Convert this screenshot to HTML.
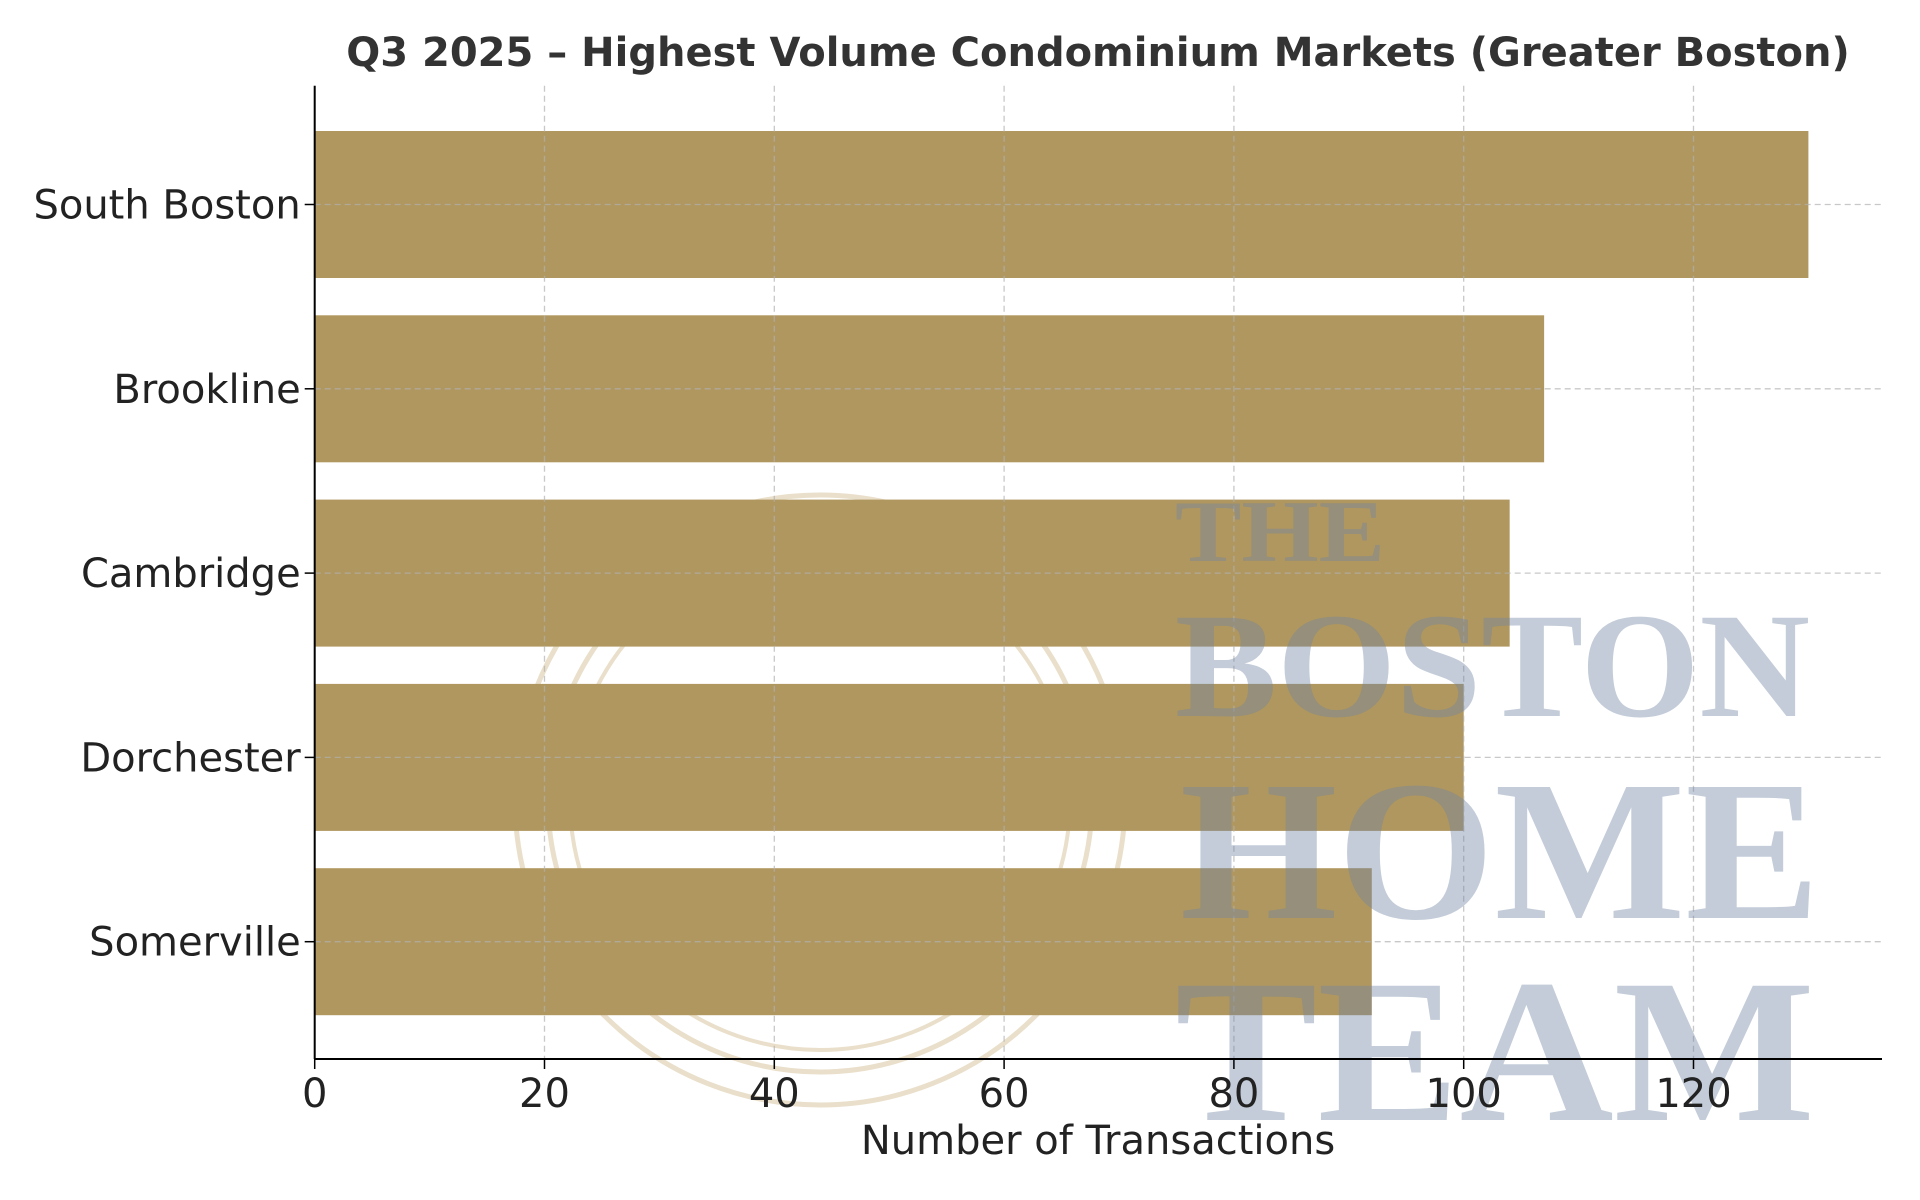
<!DOCTYPE html>
<html><head><meta charset="utf-8"><style>
html,body{margin:0;padding:0;background:#fff;}
svg{display:block;font-family:"DejaVu Sans","Liberation Sans",sans-serif;}
</style></head><body>
<svg id="chart" width="1920" height="1200" viewBox="0 0 1920 1200" xmlns="http://www.w3.org/2000/svg">
<g id="wm-circles">
<circle cx="820" cy="800" r="305" fill="none" stroke="#e9dfca" stroke-width="5"/>
<circle cx="820" cy="800" r="272" fill="none" stroke="#e9dfca" stroke-width="5"/>
<circle cx="820" cy="800" r="250" fill="none" stroke="#e9dfca" stroke-width="4"/>
</g>
<g id="bars"></g>
<g id="grid"></g>
<g id="wm-text" fill="#6f86a3" fill-opacity="0.42" font-family="'Liberation Serif',serif" font-weight="bold">
<text x="1175" y="561" font-size="88" textLength="210" lengthAdjust="spacingAndGlyphs">THE</text>
<text x="1175" y="716" font-size="150" textLength="635" lengthAdjust="spacingAndGlyphs">BOSTON</text>
<text x="1180" y="918" font-size="200" textLength="640" lengthAdjust="spacingAndGlyphs">HOME</text>
<text x="1175" y="1120" font-size="205" textLength="640" lengthAdjust="spacingAndGlyphs">TEAM</text>
</g>
<g id="axes"></g>
<text x="1098" y="66" text-anchor="middle" font-size="40" font-weight="bold" fill="#333">Q3 2025 – Highest Volume Condominium Markets (Greater Boston)</text>
<text x="1098" y="1154" text-anchor="middle" font-size="40" fill="#222">Number of Transactions</text>
</svg>
<script>
const categories = ["South Boston","Brookline","Cambridge","Dorchester","Somerville"];
const values = [130,107,104,100,92];
const ticks = [0,20,40,60,80,100,120];
const NS="http://www.w3.org/2000/svg";
const L=314.7, R=1882, T=85.7, B=1059;
const X=v=>L+v*(1693.5-L)/120;
const Y=i=>204.5+i*184.3;
const bh=147;
function mk(p,tag,a){const e=document.createElementNS(NS,tag);for(const k in a)e.setAttribute(k,a[k]);p.appendChild(e);return e;}
const bars=document.getElementById('bars'),grid=document.getElementById('grid'),axes=document.getElementById('axes');
categories.forEach((c,i)=>{
  const r=mk(bars,'rect',{x:L,y:Y(i)-bh/2,width:X(values[i])-L,height:bh,fill:'#b0975f'});
  
  
  const g=mk(grid,'line',{x1:L,x2:R,y1:Y(i),y2:Y(i),stroke:'#b0b0b0','stroke-dasharray':'6,4','stroke-width':1.3,'stroke-opacity':0.7});
  
  
  mk(axes,'line',{x1:L-10,x2:L,y1:Y(i),y2:Y(i),stroke:'#000','stroke-width':1.5});
  const t=mk(axes,'text',{x:L-14,y:Y(i)+14,'text-anchor':'end','font-size':40,fill:'#222'});
  t.textContent=c;
  
  
});
ticks.forEach(v=>{
  const g=mk(grid,'line',{x1:X(v),x2:X(v),y1:T,y2:B,stroke:'#b0b0b0','stroke-dasharray':'6,4','stroke-width':1.3,'stroke-opacity':0.7});
  
  
  mk(axes,'line',{x1:X(v),x2:X(v),y1:B,y2:B+10,stroke:'#000','stroke-width':1.5});
  const t=mk(axes,'text',{x:X(v),y:B+48,'text-anchor':'middle','font-size':40,fill:'#222'});
  t.textContent=v;
  
  
});
mk(axes,'line',{x1:L,x2:L,y1:T,y2:B,stroke:'#000','stroke-width':2});
mk(axes,'line',{x1:L,x2:R,y1:B,y2:B,stroke:'#000','stroke-width':2});
</script>
</body></html>
